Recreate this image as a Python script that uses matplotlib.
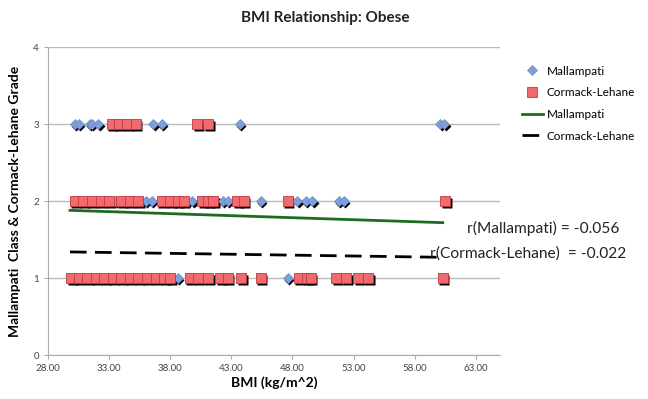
import matplotlib.pyplot as plt
import matplotlib.transforms as mtransforms

plt.rcParams['font.family'] = ['Lato', 'DejaVu Sans']

# Mallampati class (blue diamonds)
mall_x = [30.2, 30.5, 31.4, 31.6, 32.1, 36.6, 37.3, 43.7, 60.1, 60.4,
          33.5, 36.0, 36.5, 39.4, 39.8, 42.3, 42.7, 45.4, 48.4, 49.1, 49.6, 51.8, 52.2,
          38.6, 47.6]
mall_y = [3, 3, 3, 3, 3, 3, 3, 3, 3, 3,
          2, 2, 2, 2, 2, 2, 2, 2, 2, 2, 2, 2, 2,
          1, 1]

# Cormack-Lehane grade (red squares)
cl_x = [33.2, 33.8, 34.5, 35.2, 40.2, 41.1,
        30.2, 30.9, 31.6, 32.3, 33.0, 34.0, 34.7, 35.4, 37.3, 38.0, 38.6, 39.1,
        40.6, 41.1, 41.5, 43.5, 44.0, 47.6, 60.5,
        29.9, 30.5, 31.2, 31.9, 32.6, 33.3, 34.0, 34.7, 35.4, 36.1, 36.8, 37.5, 38.0,
        39.6, 40.3, 41.1, 42.1, 42.7, 43.8, 45.4, 48.5, 49.2, 49.5, 51.6, 52.4,
        53.4, 54.2, 60.3]
cl_y = [3, 3, 3, 3, 3, 3,
        2, 2, 2, 2, 2, 2, 2, 2, 2, 2, 2, 2,
        2, 2, 2, 2, 2, 2, 2,
        1, 1, 1, 1, 1, 1, 1, 1, 1, 1, 1, 1, 1,
        1, 1, 1, 1, 1, 1, 1, 1, 1, 1, 1, 1,
        1, 1, 1]

# linear trend lines (end points)
trend_x = [29.8, 60.3]
mall_trend = [1.88, 1.72]
cl_trend = [1.34, 1.27]

x_ticks = [28, 33, 38, 43, 48, 53, 58, 63]
y_ticks = [0, 1, 2, 3, 4]

fig = plt.figure(figsize=(6.48, 3.99), dpi=100)
ax = fig.add_axes([0.074, 0.110, 0.698, 0.772])

# marker shadows
shadow = mtransforms.offset_copy(ax.transData, fig=fig, x=1.1, y=-1.1, units='points')
ax.plot(mall_x, mall_y, 'D', ms=5, color='black', mec='none', transform=shadow, zorder=2)
ax.plot(cl_x, cl_y, 's', ms=6.5, color='black', mec='none', transform=shadow, zorder=2)

ax.plot(mall_x, mall_y, 'D', ms=5, color='#7f9fd8', mec='#6a8bc8', mew=0.5,
        label='Mallampati', zorder=3)
ax.plot(cl_x, cl_y, 's', ms=6.5, color='#f06a6e', mec='#c0393f', mew=0.6,
        label='Cormack-Lehane', zorder=3)

ax.plot(trend_x, mall_trend, color='#1e6b1e', lw=2, label='Mallampati', zorder=4)
ax.plot(trend_x, cl_trend, color='black', lw=2, dashes=(6, 3), label='Cormack-Lehane', zorder=4)

ax.set_xlim(28, 65)
ax.set_ylim(0, 4)
ax.set_xticks(x_ticks)
ax.set_xticklabels(['%.2f' % v for v in x_ticks])
ax.set_yticks(y_ticks)
ax.tick_params(labelsize=7, colors='#444444', length=3, color='#aaaaaa')
ax.grid(axis='y', color='#bbbbbb', lw=1)
ax.set_axisbelow(True)
for s in ['top', 'right']:
    ax.spines[s].set_visible(False)
for s in ['left', 'bottom']:
    ax.spines[s].set_color('#aaaaaa')

ax.set_xlabel('BMI (kg/m^2)', fontsize=10, fontweight='bold', labelpad=2)
ax.set_ylabel('Mallampati  Class & Cormack-Lehane Grade', fontsize=10,
              fontweight='bold', labelpad=9)
fig.text(0.502, 0.955, 'BMI Relationship: Obese', ha='center', va='center',
         fontsize=11, fontweight='bold', color='#222222')

fig.text(467 / 648, 1 - 228 / 399, 'r(Mallampati) = -0.056', fontsize=11.2,
         va='center', color='#222222')
fig.text(430 / 648, 1 - 254 / 399, 'r(Cormack-Lehane)  = -0.022', fontsize=11.2,
         va='center', color='#222222')

fig.legend(loc='upper left', bbox_to_anchor=(511 / 648, 1 - 55 / 399), frameon=False,
           fontsize=8.5, handlelength=1.8, handletextpad=0.3, labelspacing=0.9)

fig.savefig('out.png', dpi=100)
